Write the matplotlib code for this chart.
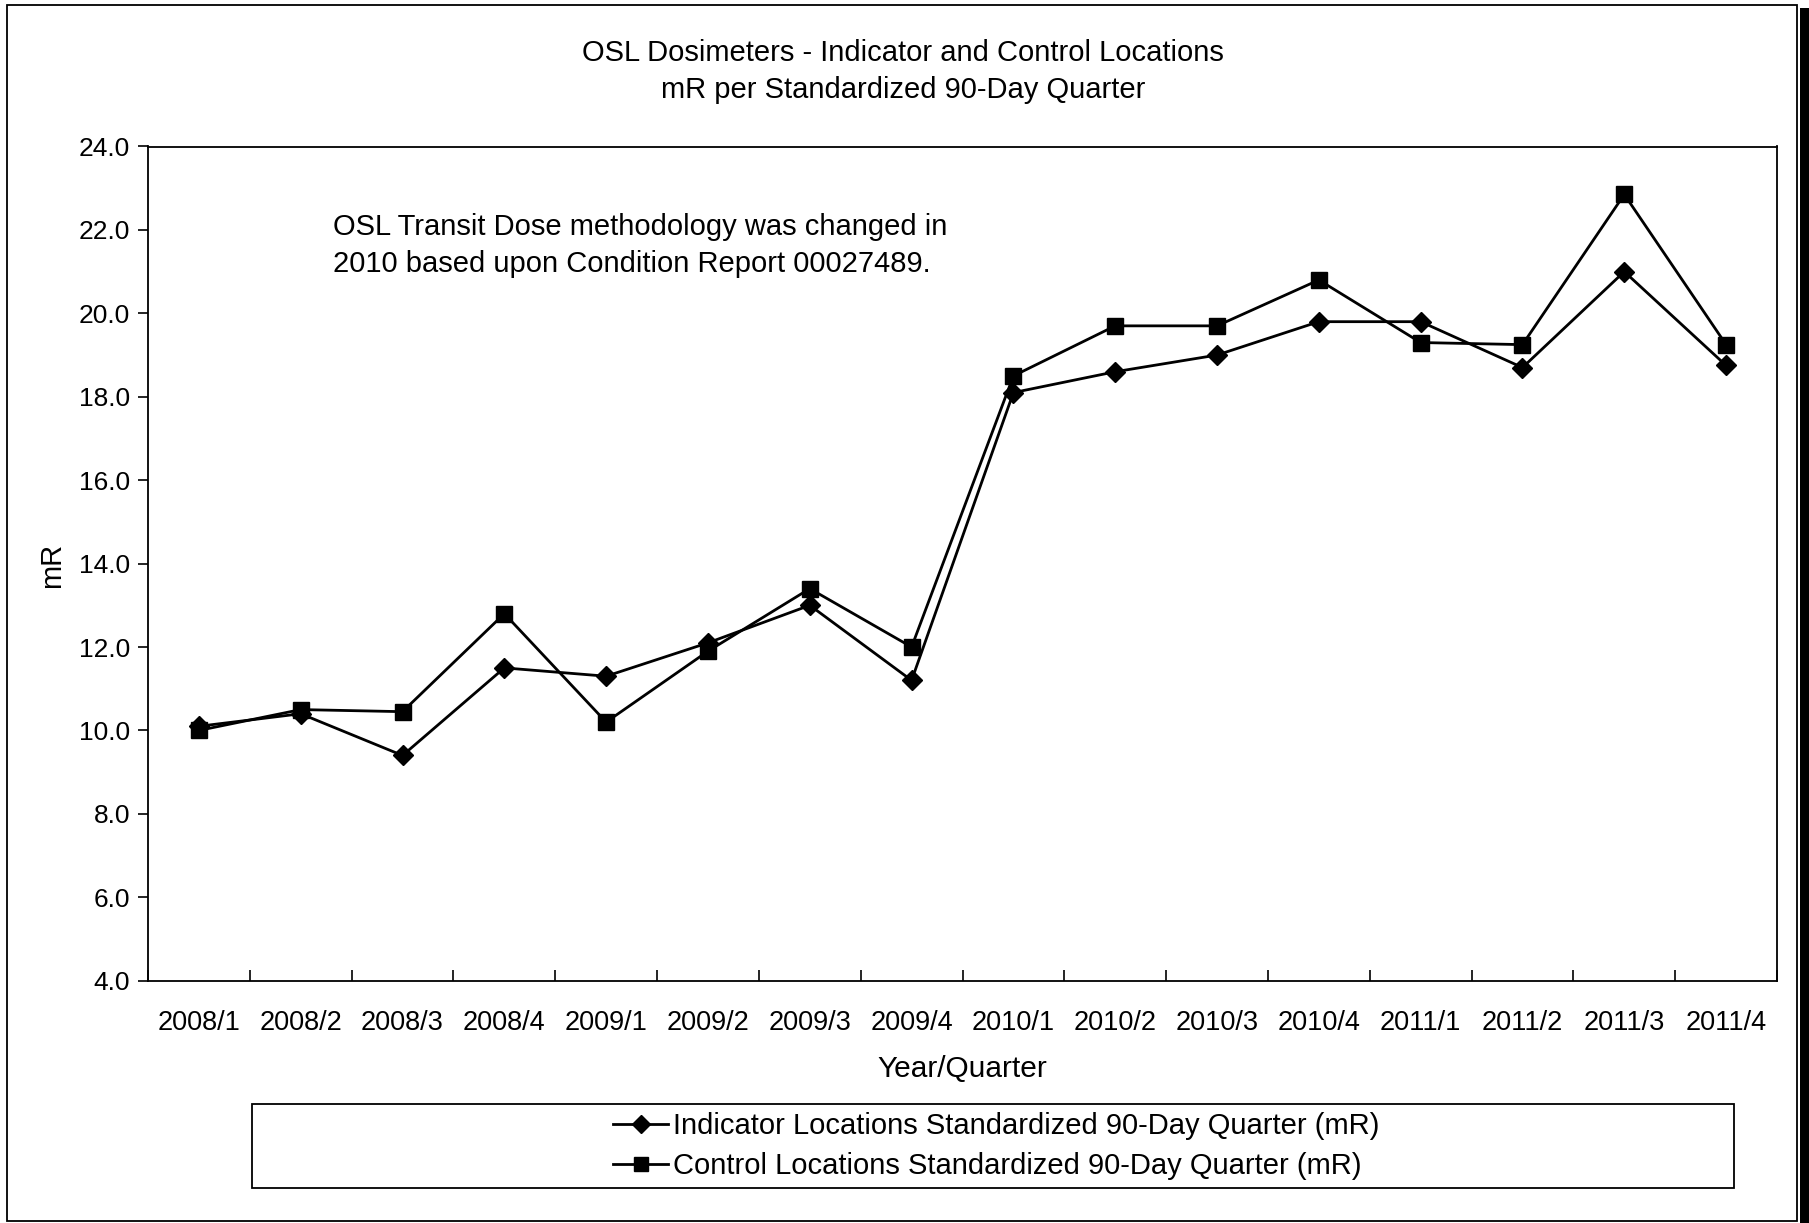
import matplotlib
matplotlib.use("Agg")
import matplotlib.pyplot as plt
from matplotlib.patches import Rectangle

plt.rcParams['font.family'] = ['Liberation Sans', 'DejaVu Sans']

quarters = ["2008/1", "2008/2", "2008/3", "2008/4",
            "2009/1", "2009/2", "2009/3", "2009/4",
            "2010/1", "2010/2", "2010/3", "2010/4",
            "2011/1", "2011/2", "2011/3", "2011/4"]
indicator = [10.1, 10.4, 9.4, 11.5, 11.3, 12.1, 13.0, 11.2,
             18.1, 18.6, 19.0, 19.8, 19.8, 18.7, 21.0, 18.75]
control = [10.0, 10.5, 10.45, 12.8, 10.2, 11.9, 13.4, 12.0,
           18.5, 19.7, 19.7, 20.8, 19.3, 19.25, 22.85, 19.25]
y_ticks = [4.0, 6.0, 8.0, 10.0, 12.0, 14.0, 16.0, 18.0, 20.0, 22.0, 24.0]

W, H = 1809, 1223
fig = plt.figure(figsize=(W / 100, H / 100), dpi=100)
fig.patch.set_facecolor("white")

# plot area in pixel terms
left, right, top, bottom = 148, 1777, 146.5, 980.7
ax = fig.add_axes([left / W, 1 - bottom / H, (right - left) / W, (bottom - top) / H])

x = list(range(len(quarters)))
ax.plot(x, indicator, color="black", lw=2.0, marker="D", markersize=10,
        markerfacecolor="black", markeredgecolor="black",
        label="Indicator Locations Standardized 90-Day Quarter (mR)", zorder=3)
ax.plot(x, control, color="black", lw=2.0, marker="s", markersize=11,
        markerfacecolor="black", markeredgecolor="black",
        label="Control Locations Standardized 90-Day Quarter (mR)", zorder=3)

ax.set_xlim(-0.5, len(quarters) - 0.5)
ax.set_ylim(4, 24)
ax.set_yticks(y_ticks)
ax.set_yticklabels([f"{v:.1f}" for v in y_ticks], fontsize=19)
ax.set_xticks(x)
ax.set_xticklabels(quarters, fontsize=19.5)
ax.tick_params(axis="x", which="major", length=0, pad=21)
ax.set_xticks([i - 0.5 for i in range(len(quarters) + 1)], minor=True)
ax.tick_params(axis="x", which="minor", direction="in", length=8, width=1.2)
ax.tick_params(axis="y", which="major", direction="out", length=7, width=1.2, pad=6)
for s in ax.spines.values():
    s.set_linewidth(1.3)
    s.set_color("black")

ax.set_xlabel("Year/Quarter", fontsize=21.5, labelpad=14)
fig.text(52 / W, 1 - 565 / H, "mR", rotation=90, fontsize=21, ha="center", va="center")

cx = 903 / W
fig.text(cx, 1 - 53 / H, "OSL Dosimeters - Indicator and Control Locations",
         fontsize=21, ha="center", va="center")
fig.text(cx, 1 - 90 / H, "mR per Standardized 90-Day Quarter",
         fontsize=21, ha="center", va="center")

fig.text(333 / W, 1 - 227 / H, "OSL Transit Dose methodology was changed in",
         fontsize=21, ha="left", va="center")
fig.text(333 / W, 1 - 264 / H, "2010 based upon Condition Report 00027489.",
         fontsize=21, ha="left", va="center")

# legend box
fig.add_artist(Rectangle((251.5 / W, 1 - 1188 / H), (1734 - 251.5) / W, (1188 - 1104) / H,
                         transform=fig.transFigure, fill=False, edgecolor="black", lw=1.3))
handles, labels = ax.get_legend_handles_labels()
fig.legend(handles, labels, loc="center", bbox_to_anchor=(996 / W, 1 - 1146 / H),
           frameon=False, fontsize=21, handlelength=1.9, handletextpad=0.15,
           labelspacing=0.42, markerscale=0.95, borderpad=0)

# outer chart border
fig.add_artist(Rectangle((7 / W, 1 - 1221 / H), (1797 - 7) / W, (1221 - 5) / H,
                         transform=fig.transFigure, fill=False, edgecolor="black", lw=1.3))
fig.add_artist(Rectangle((1800 / W, 0), 9 / W, 1 - 8 / H,
                         transform=fig.transFigure, facecolor="black", edgecolor="none"))

fig.savefig("out.png", dpi=100, facecolor="white")
